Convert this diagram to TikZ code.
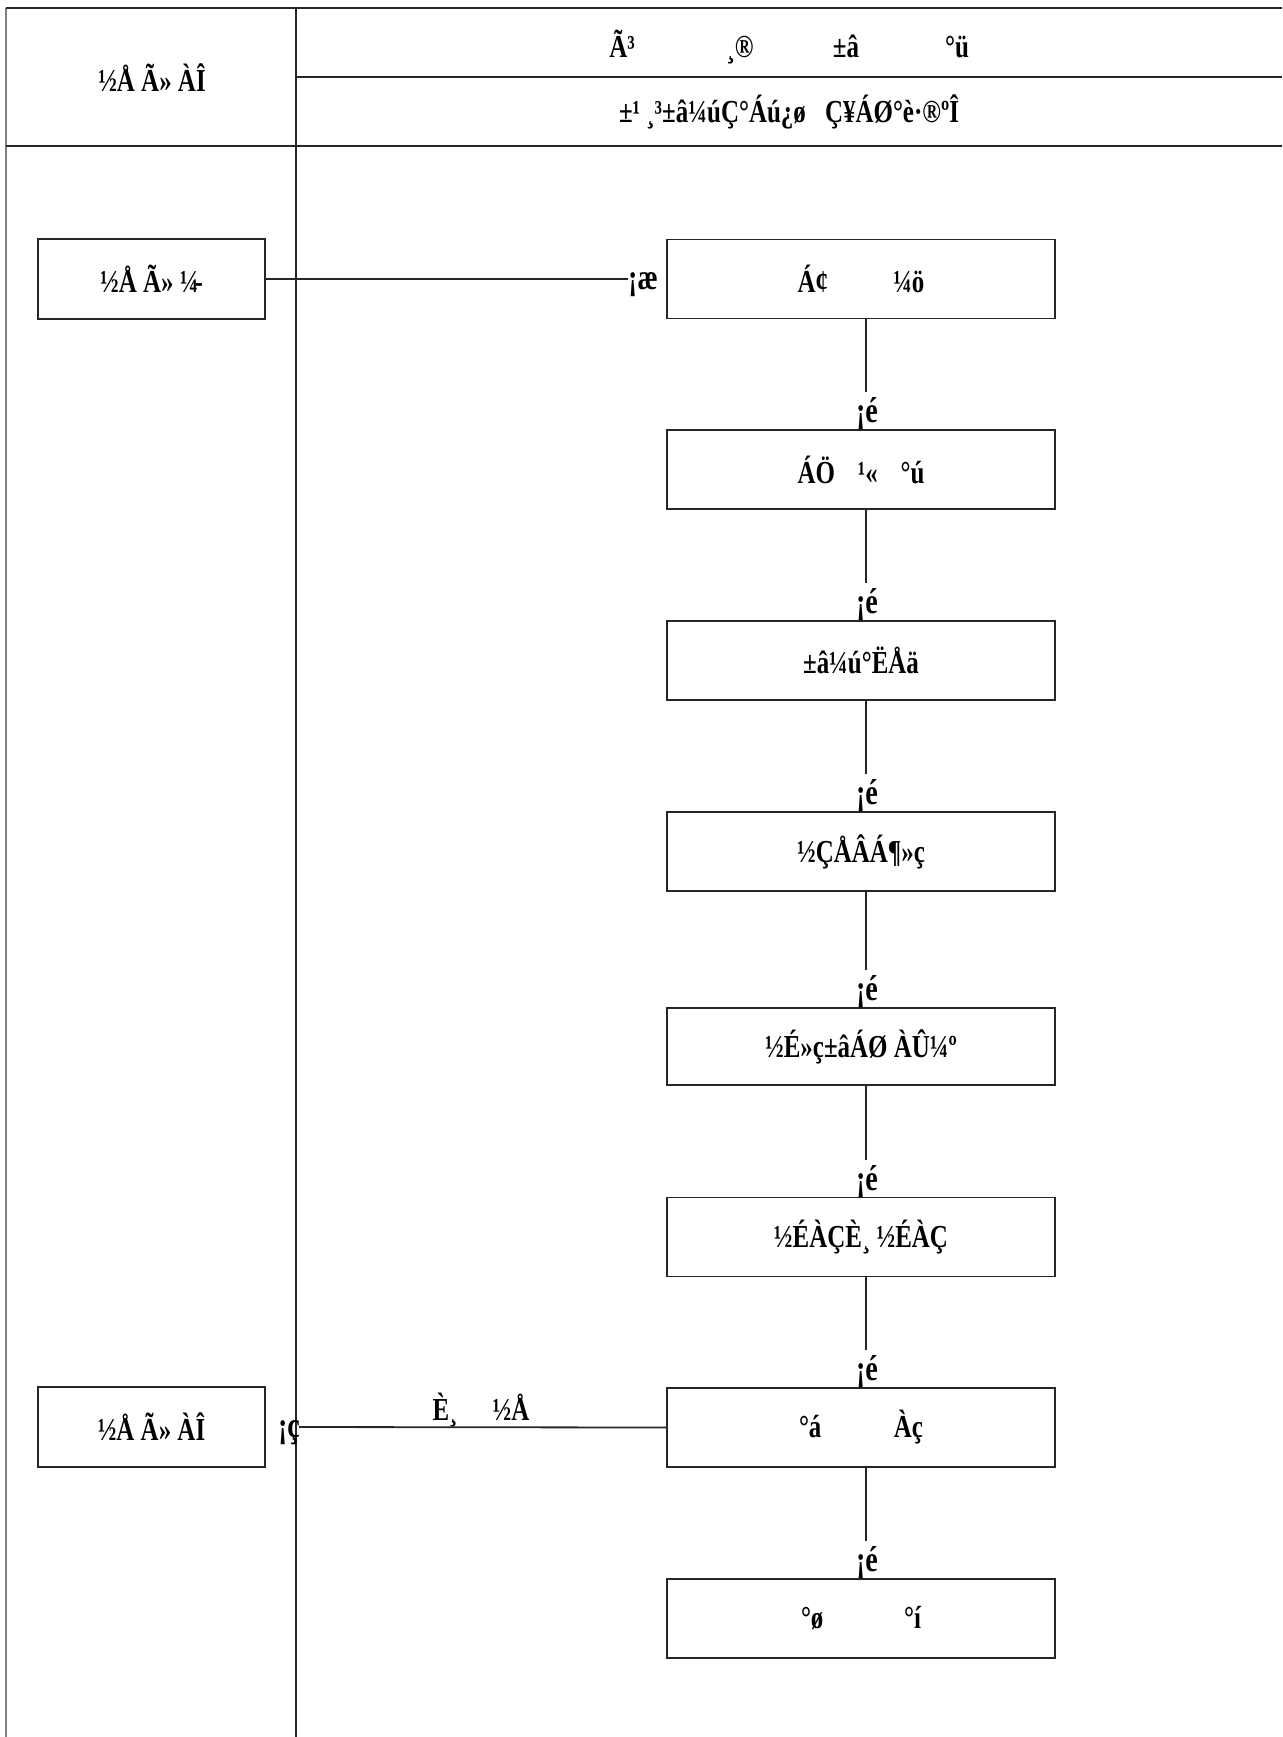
\documentclass[tikz,border=0pt]{standalone}
\usepackage{fontspec}
\setmainfont{Liberation Serif}[FakeStretch=0.78]
\begin{document}
\begin{tikzpicture}[x=0.5pt,y=-0.5pt,
  font=\fontsize{16}{18}\selectfont\bfseries,
  line/.style={draw=black!85, line width=0.9pt},
  frame/.style={draw=black!85, line width=1pt},
  box/.style={draw=black!85, line width=0.9pt, inner sep=0pt, minimum width=194pt, minimum height=39.5pt},
  lbox/.style={box, minimum width=113.5pt, minimum height=40pt},
  txt/.style={inner sep=0pt},
  arr/.style={inner sep=0pt, anchor=base, font=\fontsize{18}{20}\selectfont\bfseries}]
\useasboundingbox (0,0) rectangle (1282,1737);
% frame
\draw[draw=black!50, line width=1.1pt] (6,8) -- (6,1737);
\draw[frame] (6,8) -- (1282,8);
\draw[frame] (6,146) -- (1282,146);
\draw[frame] (296,77) -- (1282,77);
\draw[frame] (296,8) -- (296,1737);
% header
\node[txt] (hl) at (152,78) {½Å Ã» ÀÎ};
\node[txt, anchor=base] (ha) at (622,57) {Ã³};
\node[txt, anchor=base] (hb) at (740,57) {¸®};
\node[txt, anchor=base] (hc) at (846,57) {±â};
\node[txt, anchor=base] (hd) at (957,57) {°ü};
\node[txt, anchor=base] (hr) at (789,122) {±¹ ¸³±â¼úÇ°Áú¿ø\hspace{0.6em}Ç¥ÁØ°è·®ºÎ};
% left boxes
\node[lbox] (l1) at (151.5,279) {½Å Ã» ¼\kern-0.12em-};
\node[lbox] (l2) at (151.5,1427) {½Å Ã» ÀÎ};
% right boxes
\node[box] (b1) at (861,279) {\hbox to 63.5pt{Á¢\hfill ¼ö}};
\node[box] (b2) at (861,469.5) {\hbox to 63.5pt{ÁÖ\hfill ¹«\hfill °ú}};
\node[box] (b3) at (861,660.5) {±â¼ú°ËÅä};
\node[box] (b4) at (861,851.5) {½ÇÅÂÁ¶»ç};
\node[box, minimum height=38.5pt] (b5) at (861,1046.5) {½É»ç±âÁØ ÀÛ¼º};
\node[box] (b6) at (861,1237) {½ÉÀÇÈ¸ ½ÉÀÇ};
\node[box] (b7) at (861,1427.5) {\hbox to 62pt{°á\hfill Àç}};
\node[box] (b8) at (861,1618.5) {\hbox to 60pt{°ø\hfill °í}};
% arrow glyph labels
\node[arr] (a1) at (643,289) {¡æ};
\node[arr] (a2) at (867,422) {¡é};
\node[arr] (a3) at (867,613) {¡é};
\node[arr] (a4) at (867,804) {¡é};
\node[arr] (a5) at (867,1000) {¡é};
\node[arr] (a6) at (867,1190) {¡é};
\node[arr] (a7) at (867,1380) {¡é};
\node[arr] (a8) at (867,1571) {¡é};
\node[arr] (a9) at (289,1437) {¡ç};
\node[txt, anchor=base] (lab) at (481,1420) {È¸\hspace{1.1em}½Å};
% connector ends
\coordinate (c1) at (866,392);
\coordinate (c2) at (866,583);
\coordinate (c3) at (866,774);
\coordinate (c4) at (866,970);
\coordinate (c5) at (866,1160);
\coordinate (c6) at (866,1350);
\coordinate (c7) at (866,1541);
\coordinate (s9) at (299,1427);
% connectors
\draw[line] (l1.east) -- (l1.east -| a1.west);
\draw[line] (s9) -- (b7.west);
\draw[line] (b1.south -| c1) -- (c1);
\draw[line] (b2.south -| c2) -- (c2);
\draw[line] (b3.south -| c3) -- (c3);
\draw[line] (b4.south -| c4) -- (c4);
\draw[line] (b5.south -| c5) -- (c5);
\draw[line] (b6.south -| c6) -- (c6);
\draw[line] (b7.south -| c7) -- (c7);
\end{tikzpicture}
\end{document}
